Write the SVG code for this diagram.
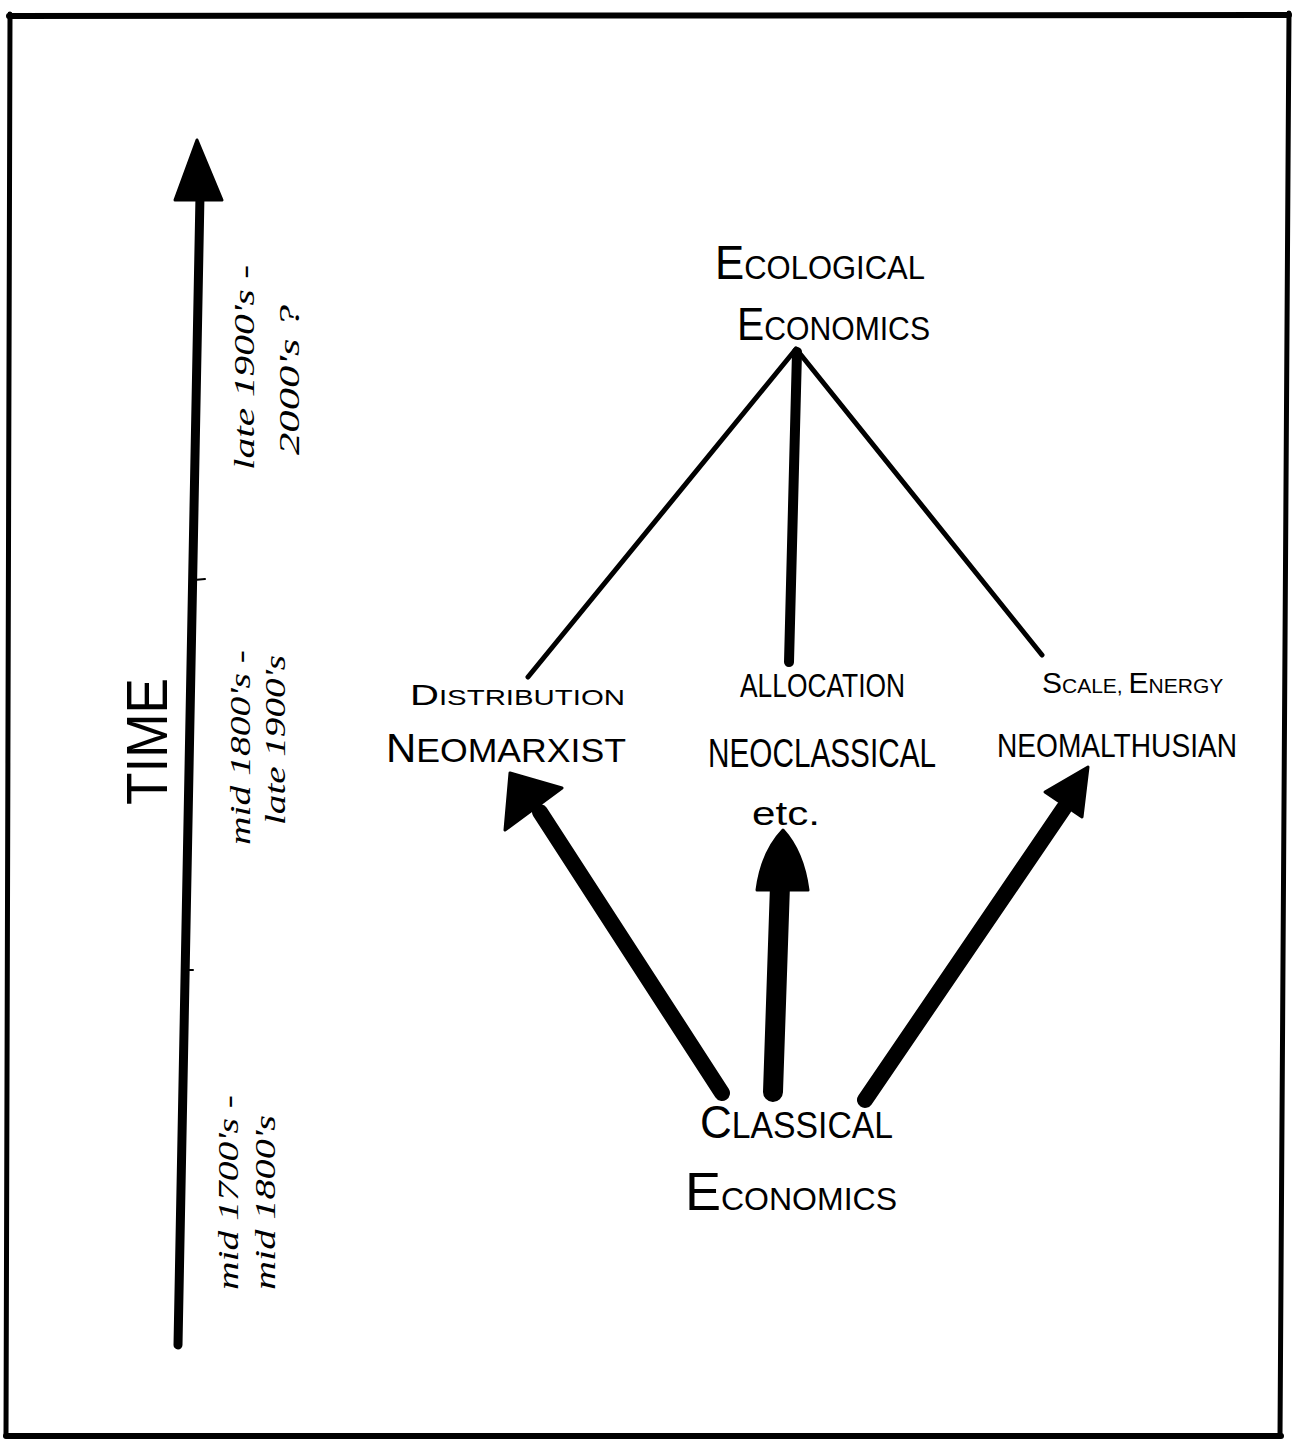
<svg xmlns="http://www.w3.org/2000/svg" width="1301" height="1439" viewBox="0 0 1301 1439">
<style>
.t{font-family:"Liberation Sans","DejaVu Sans",sans-serif;fill:#000}
.h{font-family:"Liberation Serif","DejaVu Serif",serif;font-style:italic;fill:#000}
.ln{stroke:#000;fill:none;stroke-linecap:round}
.hd{fill:#000;stroke:#000;stroke-width:3;stroke-linejoin:round}
</style>
<rect x="0" y="0" width="1301" height="1439" fill="#fff"/>
<g id="frame">
<path class="ln" d="M9,16 L1289,15" stroke-width="6"/>
<path class="ln" d="M10,14 L6,1436" stroke-width="5"/>
<path class="ln" d="M1289,13 L1280,1436" stroke-width="5"/>
<path class="ln" d="M6,1436 L1281,1436" stroke-width="6"/>
</g>
<g id="time-axis">
<path class="ln" d="M178,1345 L200,195" stroke-width="9"/>
<path class="hd" d="M197,140 L222,200 L175,200 Z"/>
<path class="ln" d="M194,580 L205,579" stroke-width="2"/>
<path class="ln" d="M186,970 L193,970" stroke-width="2"/>
<text class="t" font-size="58" textLength="127" lengthAdjust="spacingAndGlyphs" transform="translate(167,805) rotate(-90)">TIME</text>
<text class="h" font-size="30" textLength="205" lengthAdjust="spacingAndGlyphs" transform="translate(254,470) rotate(-90)">late 1900's -</text>
<text class="h" font-size="30" textLength="150" lengthAdjust="spacingAndGlyphs" transform="translate(299,455) rotate(-90)">2000's ?</text>
<text class="h" font-size="30" textLength="195" lengthAdjust="spacingAndGlyphs" transform="translate(250,845) rotate(-90)">mid 1800's -</text>
<text class="h" font-size="30" textLength="170" lengthAdjust="spacingAndGlyphs" transform="translate(285,825) rotate(-90)">late 1900's</text>
<text class="h" font-size="30" textLength="195" lengthAdjust="spacingAndGlyphs" transform="translate(238,1290) rotate(-90)">mid 1700's -</text>
<text class="h" font-size="30" textLength="175" lengthAdjust="spacingAndGlyphs" transform="translate(275,1290) rotate(-90)">mid 1800's</text>
</g>
<g id="connectors">
<path class="ln" d="M796,349 L528,677" stroke-width="5"/>
<path class="ln" d="M797,352 L789,662" stroke-width="10"/>
<path class="ln" d="M797,350 L1042,655" stroke-width="5"/>
<path class="ln" d="M722,1093 L540,812" stroke-width="16" stroke-linecap="butt"/>
<path class="hd" d="M510,773 L562,788 L505,830 Z"/>
<path class="ln" d="M773,1092 L780,885" stroke-width="20" stroke-linecap="butt"/>
<path class="hd" d="M783,830 Q803,852 808,890 L757,890 Q762,852 783,830 Z"/>
<path class="ln" d="M865,1100 L1064,808" stroke-width="16" stroke-linecap="butt"/>
<path class="hd" d="M1088,767 L1045,792 L1082,817 Z"/>
</g>
<g id="ecological-economics">
<text class="t" x="715" y="279" font-size="34" textLength="210" lengthAdjust="spacingAndGlyphs"><tspan font-size="48">E</tspan>COLOGICAL</text>
<text class="t" x="737" y="340" font-size="34" textLength="193" lengthAdjust="spacingAndGlyphs"><tspan font-size="46">E</tspan>CONOMICS</text>
</g>
<g id="distribution-neomarxist">
<text class="t" x="410" y="705" font-size="22" textLength="215" lengthAdjust="spacingAndGlyphs"><tspan font-size="30">D</tspan>ISTRIBUTION</text>
<text class="t" x="386" y="762" font-size="34" textLength="240" lengthAdjust="spacingAndGlyphs"><tspan font-size="40">N</tspan>EOMARXIST</text>
</g>
<g id="allocation-neoclassical">
<text class="t" x="740" y="697" font-size="33" textLength="165" lengthAdjust="spacingAndGlyphs">ALLOCATION</text>
<text class="t" x="708" y="767" font-size="41" textLength="228" lengthAdjust="spacingAndGlyphs">NEOCLASSICAL</text>
<text class="t" x="752" y="825" font-size="34" textLength="68" lengthAdjust="spacingAndGlyphs">etc.</text>
</g>
<g id="scale-neomalthusian">
<text class="t" x="1042" y="693" font-size="21"><tspan font-size="30">S</tspan>CALE, <tspan font-size="30">E</tspan>NERGY</text>
<text class="t" x="997" y="757" font-size="33" textLength="240" lengthAdjust="spacingAndGlyphs">NEOMALTHUSIAN</text>
</g>
<g id="classical-economics">
<text class="t" x="700" y="1138" font-size="36" textLength="193" lengthAdjust="spacingAndGlyphs"><tspan font-size="47">C</tspan>LASSICAL</text>
<text class="t" x="685" y="1210" font-size="32" textLength="212" lengthAdjust="spacingAndGlyphs"><tspan font-size="54">E</tspan>CONOMICS</text>
</g>
</svg>
